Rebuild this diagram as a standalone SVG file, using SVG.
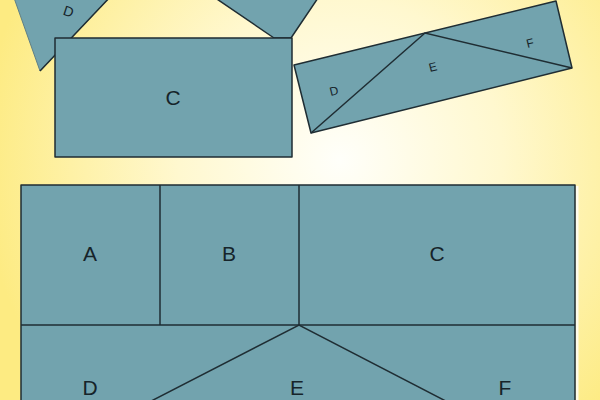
<svg xmlns="http://www.w3.org/2000/svg" width="600" height="400" viewBox="0 0 600 400">
<defs>
<radialGradient id="bg" gradientUnits="userSpaceOnUse" cx="340" cy="160" r="360">
<stop offset="0" stop-color="#fffffa"/>
<stop offset="0.45" stop-color="#fff8cf"/>
<stop offset="1" stop-color="#fdeb82"/>
</radialGradient>
<style>
.pc{fill:#72a3ae;stroke:#1f2d33;stroke-width:1.5;stroke-linejoin:round}
.ln{fill:none;stroke:#1f2d33;stroke-width:1.5}
.lb{font-family:"Liberation Sans",Arial,sans-serif;fill:#16242a;text-anchor:middle}
.big{font-size:21px}
.sm{font-size:12px}
</style>
</defs>
<rect width="600" height="400" fill="url(#bg)"/>

<g id="topD">
<polygon points="13,-5 112,-5 40,71" fill="#72a3ae" stroke="#5f7f86" stroke-width="1"/>
<line x1="112" y1="-5" x2="40" y2="71" class="ln" stroke-width="1"/>
<text class="lb" font-size="14" transform="translate(67,16) rotate(18)">D</text>
</g>

<g id="topE">
<polygon class="pc" points="211,-5 320,-5 291,38 274,38"/>
</g>

<g id="topC">
<rect class="pc" x="55" y="38" width="237" height="119"/>
<text class="lb big" x="173" y="105">C</text>
</g>

<g id="rotated">
<polygon class="pc" points="294,65 556,1 572,68 311,133" stroke-width="1.2"/>
<g id="connectors-rot">
<polyline class="ln" stroke-width="1.2" points="311,133 425,33 572,68"/>
</g>
<text class="lb sm" transform="translate(335,95) rotate(-14)">D</text>
<text class="lb sm" transform="translate(434,71) rotate(-14)">E</text>
<text class="lb sm" transform="translate(531,47) rotate(-14)">F</text>
</g>

<g id="bottom">
<line x1="577" y1="186" x2="577" y2="400" stroke="#ffffff" stroke-width="3" opacity="0.8"/>
<rect class="pc" x="21" y="185" width="554" height="283"/>
<g id="connectors">
<line class="ln" x1="21" y1="325" x2="575" y2="325"/>
<line class="ln" x1="160" y1="185" x2="160" y2="325"/>
<line class="ln" x1="299" y1="185" x2="299" y2="325"/>
<polyline class="ln" points="21,468 299,325 575,468"/>
</g>
<g id="A"><text class="lb big" x="90" y="261">A</text></g>
<g id="B"><text class="lb big" x="229" y="261">B</text></g>
<g id="C"><text class="lb big" x="437" y="261">C</text></g>
<g id="D"><text class="lb big" x="90" y="395">D</text></g>
<g id="E"><text class="lb big" x="297" y="395">E</text></g>
<g id="F"><text class="lb big" x="505" y="395">F</text></g>
</g>
</svg>
